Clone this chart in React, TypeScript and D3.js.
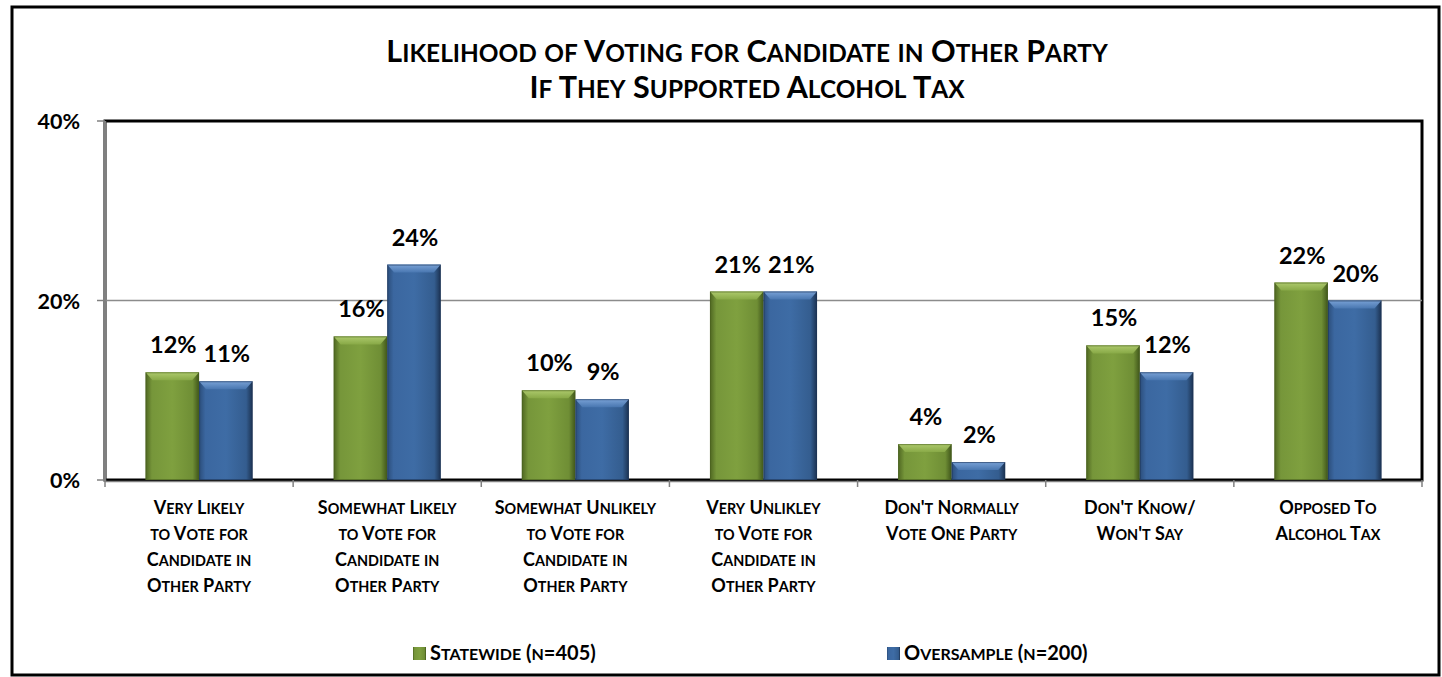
import React from "react";
import * as d3 from "d3";

const categories = [
  "very-likely",
  "somewhat-likely",
  "somewhat-unlikely",
  "very-unlikely",
  "dont-normally",
  "dont-know",
  "opposed",
];
const categoryLabels: string[][] = [
  ["Very Likely", "to Vote for", "Candidate in", "Other Party"],
  ["Somewhat Likely", "to Vote for", "Candidate in", "Other Party"],
  ["Somewhat Unlikely", "to Vote for", "Candidate in", "Other Party"],
  ["Very Unlikley", "to Vote for", "Candidate in", "Other Party"],
  ["Don't Normally", "Vote One Party"],
  ["Don't Know/", "Won't Say"],
  ["Opposed To", "Alcohol Tax"],
];
const seriesNames = ["Statewide (n=405)", "Oversample (n=200)"];
const statewide = [12, 16, 10, 21, 4, 15, 22];
const oversample = [11, 24, 9, 21, 2, 12, 20];
const yTicks = [0, 20, 40];
const titleLines = [
  "Likelihood of Voting for Candidate in Other Party",
  "If They Supported Alcohol Tax",
];

const FONT = "Lato, 'Open Sans', sans-serif";

function smallCaps(text: string, size: number, ratio = 0.8) {
  const runs: { t: string; small: boolean }[] = [];
  for (const ch of text) {
    const small = /[a-z]/.test(ch);
    const last = runs[runs.length - 1];
    if (last && last.small === small) last.t += ch;
    else runs.push({ t: ch, small });
  }
  return runs.map((r, i) => (
    <tspan key={i} fontSize={r.small ? size * ratio : size}>
      {r.small ? r.t.toUpperCase() : r.t}
    </tspan>
  ));
}

export default function App() {
  const W = 1442;
  const H = 677;
  const left = 105;
  const right = 1422;
  const top = 121;
  const bottom = 480;

  const x = d3.scaleBand<string>().domain(categories).range([left, right]).padding(0);
  const x1 = d3
    .scaleBand<number>()
    .domain([0, 1])
    .range([0, x.bandwidth()])
    .paddingInner(0)
    .paddingOuter(0.757);
  const y = d3.scaleLinear().domain([0, 40]).range([bottom, top]);

  const series = [statewide, oversample];
  const gradIds = ["gGreen", "gBlue"];
  const topIds = ["tGreen", "tBlue"];

  return (
    <svg
      width={W}
      height={H}
      style={{ position: "absolute", left: 0, top: 0, background: "#fff" }}
      fontFamily={FONT}
    >
      <defs>
        <linearGradient id="gGreen" x1="0" x2="1" y1="0" y2="0">
          <stop offset="0" stopColor="#4e6621" />
          <stop offset="0.12" stopColor="#76963a" />
          <stop offset="0.5" stopColor="#7fa03f" />
          <stop offset="0.88" stopColor="#6f8e35" />
          <stop offset="1" stopColor="#3f551a" />
        </linearGradient>
        <linearGradient id="gBlue" x1="0" x2="1" y1="0" y2="0">
          <stop offset="0" stopColor="#2b4d7a" />
          <stop offset="0.12" stopColor="#3b67a0" />
          <stop offset="0.5" stopColor="#3e6ca5" />
          <stop offset="0.88" stopColor="#345d8f" />
          <stop offset="1" stopColor="#1b3150" />
        </linearGradient>
        <linearGradient id="tGreen" x1="0" x2="0" y1="0" y2="1">
          <stop offset="0" stopColor="#b3cf72" />
          <stop offset="1" stopColor="#8aab48" />
        </linearGradient>
        <linearGradient id="tBlue" x1="0" x2="0" y1="0" y2="1">
          <stop offset="0" stopColor="#80a8dc" />
          <stop offset="1" stopColor="#4a78b2" />
        </linearGradient>
      </defs>

      {/* outer border */}
      <rect x={12} y={7} width={1427} height={668} fill="#fff" stroke="#000" strokeWidth={3} />

      {/* title */}
      {titleLines.map((t, i) => (
        <text
          key={i}
          x={747}
          y={62 + i * 36}
          textAnchor="middle"
          fontWeight="bold"
          fill="#000"
        >
          {smallCaps(t, 30.5)}
        </text>
      ))}

      {/* plot area */}
      <rect x={left} y={top} width={right - left} height={bottom - top} fill="#fff" stroke="#000" strokeWidth={3} />

      {/* gridline */}
      {yTicks
        .filter((t) => t !== 0 && t !== 40)
        .map((t) => (
          <line key={t} x1={left} x2={right} y1={y(t)} y2={y(t)} stroke="#8c8c8c" strokeWidth={1.5} />
        ))}

      {/* bars */}
      {categories.map((c, ci) => (
        <g key={c} transform={`translate(${x(c)},0)`}>
          {series.map((s, si) => {
            const bx = x1(si)!;
            const bw = x1.bandwidth();
            const by = y(s[ci]);
            const bh = bottom - by;
            const bev = Math.min(8, bh / 2);
            return (
              <g key={si}>
                <rect x={bx} y={by} width={bw} height={bh} fill={`url(#${gradIds[si]})`} />
                <polygon
                  points={`${bx},${by} ${bx + bw},${by} ${bx + bw - 7},${by + bev} ${bx + 7},${by + bev}`}
                  fill={`url(#${topIds[si]})`}
                  opacity={0.9}
                />
                <rect x={bx + 0.5} y={by + 0.5} width={bw - 1} height={bh - 1} fill="none" stroke={si === 0 ? "#4a6020" : "#1e3658"} strokeWidth={1} opacity={0.6} />
                <text
                  x={bx + bw / 2 + 1}
                  y={by - 19}
                  textAnchor="middle"
                  fontWeight="bold"
                  fontSize={23.5}
                  fill="#000"
                >
                  {s[ci]}%
                </text>
              </g>
            );
          })}
        </g>
      ))}

      {/* axes */}
      <line x1={left} x2={left} y1={top} y2={bottom + 2} stroke="#808080" strokeWidth={2.5} />
      <line x1={left} x2={right} y1={bottom + 1.5} y2={bottom + 1.5} stroke="#808080" strokeWidth={1.5} />
      {yTicks.map((t) => (
        <g key={t}>
          <line x1={left - 8} x2={left} y1={y(t)} y2={y(t)} stroke="#808080" strokeWidth={1.5} />
          <text x={80} y={y(t) + 8} textAnchor="end" fontWeight="bold" fontSize={21.5} fill="#000">
            {t}%
          </text>
        </g>
      ))}
      {[...categories.map((c) => x(c)!), right].map((px, i) => (
        <line key={i} x1={px} x2={px} y1={bottom} y2={bottom + 7} stroke="#808080" strokeWidth={1.5} />
      ))}

      {/* category labels */}
      {categories.map((c, ci) => (
        <text
          key={c}
          x={x(c)! + x.bandwidth() / 2}
          y={514}
          textAnchor="middle"
          fontWeight="bold"
          fill="#000"
        >
          {categoryLabels[ci].map((ln, li) => (
            <tspan key={li} x={x(c)! + x.bandwidth() / 2} y={514 + li * 26}>
              {smallCaps(ln, 18)}
            </tspan>
          ))}
        </text>
      ))}

      {/* legend */}
      {seriesNames.map((n, i) => {
        const lx = [413, 887][i];
        return (
          <g key={n}>
            <rect x={lx} y={647} width={13} height={13} fill={`url(#${gradIds[i]})`} />
            <text x={lx + 17} y={660} fontWeight="bold" fill="#000">
              {smallCaps(n, 20)}
            </text>
          </g>
        );
      })}
    </svg>
  );
}
